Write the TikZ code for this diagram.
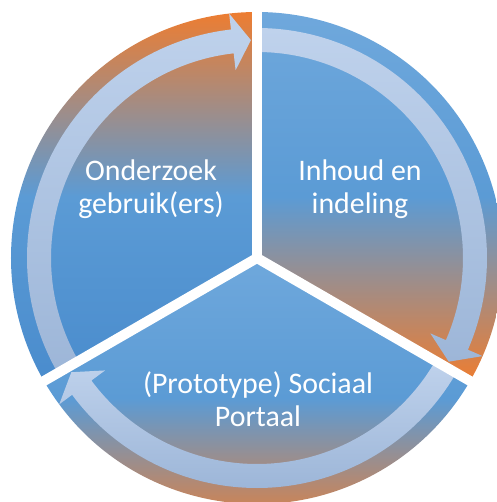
\documentclass[tikz,border=0pt]{standalone}
\usepackage{fontspec}
\setmainfont{Carlito}
\usepackage{tikz}
\usepackage{xcolor}
\definecolor{orng}{HTML}{ED7D31}
\definecolor{blu}{HTML}{5B9BD5}
\definecolor{bludark}{HTML}{4A8CCD}
\definecolor{blulight}{HTML}{6FA8DC}
\definecolor{bandlight}{HTML}{BFD2EC}
\definecolor{banddark}{HTML}{9DB6D8}

\begin{document}
\begin{tikzpicture}[
  phase/.style={text=white, align=center, inner sep=0pt, font=\fontsize{17}{19}\selectfont},
  band/.style={top color=bandlight, bottom color=banddark},
  gap/.style={white, line width=0.2cm}]
\useasboundingbox (-5.14,-4.88) rectangle (4.78,5.16);

% the three parts of the cycle
\shade[top color=orng, bottom color=bludark, middle color=blu]
(0,0) -- (90:4.92) arc[start angle=90, end angle=210, radius=4.92] -- cycle;
\shade[top color=blulight, bottom color=orng, middle color=blu]
(0,0) -- (-30:4.92) arc[start angle=-30, end angle=90, radius=4.92] -- cycle;
\shade[top color=blulight, bottom color=orng, middle color=blu]
(0,0) -- (210:4.92) arc[start angle=210, end angle=330, radius=4.92] -- cycle;

% arrow bands, clockwise
\foreach \a [evaluate=\a as \e using \a-120] in {210,90,-30}
  \shade[band] (\a:4.6) arc[start angle=\a, end angle=\e+6.5, radius=4.6]
  -- ({\e+6.5}:4.92) -- ({\e+1.6}:4.36) -- ({\e+6.5}:3.78) -- ({\e+6.5}:4.12)
  arc[start angle=\e+6.5, end angle=\a, radius=4.12] -- cycle;

\foreach \g in {90,210,330}
  \draw[gap] (0,0) -- (\g:5.4);

\node[phase] (research) at (-2.12,1.38) {Onderzoek\\gebruik(ers)};
\node[phase] (content) at (2.06,1.38) {Inhoud en\\indeling};
\node[phase] (portal) at (0.02,-2.82) {(Prototype) Sociaal\\Portaal};
\end{tikzpicture}
\end{document}
